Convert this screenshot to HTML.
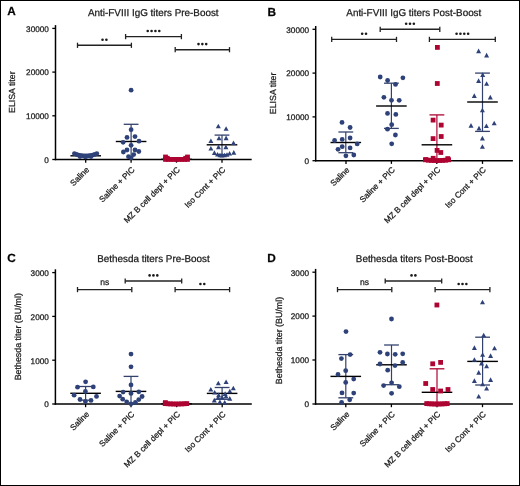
<!DOCTYPE html>
<html><head><meta charset="utf-8"><style>
html,body{margin:0;padding:0;background:#fff;}
body{width:520px;height:486px;overflow:hidden;}
text{stroke:#1a1a1a;stroke-width:0.25px;}
#w{width:520px;height:486px;will-change:transform;}
svg{display:block;font-family:"Liberation Sans", sans-serif;-webkit-font-smoothing:antialiased;text-rendering:geometricPrecision;}
</style></head><body><div id="w">
<svg width="520" height="486" viewBox="0 0 520 486">
<rect x="0" y="0" width="520" height="486" fill="#fff"/>
<rect x="0.5" y="0.5" width="519" height="485" fill="none" stroke="#000" stroke-width="1"/>
<text x="7.2" y="15.3" font-size="11.8" font-weight="bold" fill="#000">A</text>
<text transform="translate(88 15.5) scale(1 1.0)" font-size="9.9" fill="#1a1a1a">Anti-FVIII IgG titers Pre-Boost</text>
<line x1="55.5" y1="25.1" x2="55.5" y2="160.2" stroke="#000" stroke-width="1.5"/>
<line x1="52.3" y1="28.4" x2="55.5" y2="28.4" stroke="#000" stroke-width="1.3"/>
<text x="48.9" y="31.7" font-size="8.2" text-anchor="end" font-weight="normal" fill="#1a1a1a">30000</text>
<line x1="52.3" y1="72.1" x2="55.5" y2="72.1" stroke="#000" stroke-width="1.3"/>
<text x="48.9" y="75.4" font-size="8.2" text-anchor="end" font-weight="normal" fill="#1a1a1a">20000</text>
<line x1="52.3" y1="115.8" x2="55.5" y2="115.8" stroke="#000" stroke-width="1.3"/>
<text x="48.9" y="119.1" font-size="8.2" text-anchor="end" font-weight="normal" fill="#1a1a1a">10000</text>
<line x1="52.3" y1="159.5" x2="55.5" y2="159.5" stroke="#000" stroke-width="1.3"/>
<text x="48.9" y="162.8" font-size="8.2" text-anchor="end" font-weight="normal" fill="#1a1a1a">0</text>
<text x="14.6" y="92.2" font-size="8.8" text-anchor="middle" font-weight="normal" fill="#1a1a1a" transform="rotate(-90 14.6 92.2)">ELISA titer</text>
<line x1="54.8" y1="159.5" x2="251.7" y2="159.5" stroke="#000" stroke-width="1.5"/>
<line x1="85.7" y1="159.5" x2="85.7" y2="162.7" stroke="#000" stroke-width="1.3"/>
<text x="89.8" y="170.2" font-size="8.25" text-anchor="end" font-weight="normal" fill="#1a1a1a" transform="rotate(-45 89.8 170.2)">Saline</text>
<line x1="131.1" y1="159.5" x2="131.1" y2="162.7" stroke="#000" stroke-width="1.3"/>
<text x="135.2" y="170.2" font-size="8.25" text-anchor="end" font-weight="normal" fill="#1a1a1a" transform="rotate(-45 135.2 170.2)">Saline + PIC</text>
<line x1="176.5" y1="159.5" x2="176.5" y2="162.7" stroke="#000" stroke-width="1.3"/>
<text x="180.6" y="170.2" font-size="8.25" text-anchor="end" font-weight="normal" fill="#1a1a1a" transform="rotate(-45 180.6 170.2)">MZ B cell depl + PIC</text>
<line x1="222.0" y1="159.5" x2="222.0" y2="162.7" stroke="#000" stroke-width="1.3"/>
<text x="226.1" y="170.2" font-size="8.25" text-anchor="end" font-weight="normal" fill="#1a1a1a" transform="rotate(-45 226.1 170.2)">Iso Cont + PIC</text>
<line x1="77.5" y1="45.3" x2="131.4" y2="45.3" stroke="#222" stroke-width="1.4"/>
<line x1="77.5" y1="42.7" x2="77.5" y2="47.9" stroke="#222" stroke-width="1.3"/>
<line x1="131.4" y1="42.7" x2="131.4" y2="47.9" stroke="#222" stroke-width="1.3"/>
<circle cx="102.53" cy="39.7" r="1.3" fill="#1a1a1a"/>
<circle cx="106.38" cy="39.7" r="1.3" fill="#1a1a1a"/>
<line x1="125.6" y1="36.6" x2="181.4" y2="36.6" stroke="#222" stroke-width="1.4"/>
<line x1="125.6" y1="34.0" x2="125.6" y2="39.2" stroke="#222" stroke-width="1.3"/>
<line x1="181.4" y1="34.0" x2="181.4" y2="39.2" stroke="#222" stroke-width="1.3"/>
<circle cx="147.72" cy="31.0" r="1.3" fill="#1a1a1a"/>
<circle cx="151.57" cy="31.0" r="1.3" fill="#1a1a1a"/>
<circle cx="155.42" cy="31.0" r="1.3" fill="#1a1a1a"/>
<circle cx="159.28" cy="31.0" r="1.3" fill="#1a1a1a"/>
<line x1="175.2" y1="49.7" x2="229.5" y2="49.7" stroke="#222" stroke-width="1.4"/>
<line x1="175.2" y1="47.1" x2="175.2" y2="52.3" stroke="#222" stroke-width="1.3"/>
<line x1="229.5" y1="47.1" x2="229.5" y2="52.3" stroke="#222" stroke-width="1.3"/>
<circle cx="198.50" cy="44.1" r="1.3" fill="#1a1a1a"/>
<circle cx="202.35" cy="44.1" r="1.3" fill="#1a1a1a"/>
<circle cx="206.20" cy="44.1" r="1.3" fill="#1a1a1a"/>
<line x1="70.4" y1="155.8" x2="101.0" y2="155.8" stroke="#000" stroke-width="1.4"/>
<circle cx="74.4" cy="153.6" r="2.4" fill="#2e4279"/>
<circle cx="76.1" cy="154.3" r="2.4" fill="#2e4279"/>
<circle cx="77.8" cy="154.8" r="2.4" fill="#2e4279"/>
<circle cx="79.6" cy="155.3" r="2.4" fill="#2e4279"/>
<circle cx="81.3" cy="155.6" r="2.4" fill="#2e4279"/>
<circle cx="83.0" cy="155.9" r="2.4" fill="#2e4279"/>
<circle cx="84.7" cy="156.0" r="2.4" fill="#2e4279"/>
<circle cx="86.5" cy="156.0" r="2.4" fill="#2e4279"/>
<circle cx="88.2" cy="155.9" r="2.4" fill="#2e4279"/>
<circle cx="89.9" cy="155.6" r="2.4" fill="#2e4279"/>
<circle cx="91.6" cy="155.3" r="2.4" fill="#2e4279"/>
<circle cx="93.4" cy="154.8" r="2.4" fill="#2e4279"/>
<circle cx="95.1" cy="154.3" r="2.4" fill="#2e4279"/>
<circle cx="96.8" cy="153.6" r="2.4" fill="#2e4279"/>
<circle cx="80.0" cy="156.6" r="2.4" fill="#2e4279"/>
<circle cx="85.5" cy="156.9" r="2.4" fill="#2e4279"/>
<circle cx="91.0" cy="156.6" r="2.4" fill="#2e4279"/>
<line x1="131.1" y1="124.3" x2="131.1" y2="159.5" stroke="#33416c" stroke-width="1.2"/>
<line x1="123.7" y1="124.3" x2="138.5" y2="124.3" stroke="#33416c" stroke-width="1.3"/>
<line x1="115.8" y1="141.5" x2="146.4" y2="141.5" stroke="#000" stroke-width="1.4"/>
<circle cx="131.1" cy="90.2" r="2.4" fill="#2e4279"/>
<circle cx="131.1" cy="129.7" r="2.4" fill="#2e4279"/>
<circle cx="127.0" cy="137.4" r="2.4" fill="#2e4279"/>
<circle cx="135.0" cy="136.6" r="2.4" fill="#2e4279"/>
<circle cx="123.1" cy="142.3" r="2.4" fill="#2e4279"/>
<circle cx="139.0" cy="141.2" r="2.4" fill="#2e4279"/>
<circle cx="131.1" cy="145.3" r="2.4" fill="#2e4279"/>
<circle cx="127.0" cy="150.0" r="2.4" fill="#2e4279"/>
<circle cx="123.4" cy="152.0" r="2.4" fill="#2e4279"/>
<circle cx="135.0" cy="150.0" r="2.4" fill="#2e4279"/>
<circle cx="138.8" cy="151.5" r="2.4" fill="#2e4279"/>
<circle cx="133.7" cy="154.6" r="2.4" fill="#2e4279"/>
<circle cx="128.5" cy="156.7" r="2.4" fill="#2e4279"/>
<circle cx="131.1" cy="157.8" r="2.4" fill="#2e4279"/>
<line x1="161.2" y1="159.3" x2="191.8" y2="159.3" stroke="#000" stroke-width="1.4"/>
<rect x="163.1" y="157.0" width="4.8" height="4.8" fill="#ad0432"/>
<rect x="165.8" y="157.0" width="4.8" height="4.8" fill="#ad0432"/>
<rect x="168.6" y="157.0" width="4.8" height="4.8" fill="#ad0432"/>
<rect x="171.3" y="157.0" width="4.8" height="4.8" fill="#ad0432"/>
<rect x="174.1" y="157.0" width="4.8" height="4.8" fill="#ad0432"/>
<rect x="176.8" y="157.0" width="4.8" height="4.8" fill="#ad0432"/>
<rect x="179.6" y="157.0" width="4.8" height="4.8" fill="#ad0432"/>
<rect x="182.3" y="157.0" width="4.8" height="4.8" fill="#ad0432"/>
<rect x="185.1" y="157.0" width="4.8" height="4.8" fill="#ad0432"/>
<rect x="163.1" y="154.6" width="4.8" height="4.8" fill="#ad0432"/>
<rect x="164.9" y="155.9" width="4.8" height="4.8" fill="#ad0432"/>
<rect x="183.3" y="155.9" width="4.8" height="4.8" fill="#ad0432"/>
<rect x="185.1" y="154.6" width="4.8" height="4.8" fill="#ad0432"/>
<line x1="222.0" y1="135.1" x2="222.0" y2="154.5" stroke="#33416c" stroke-width="1.2"/>
<line x1="214.6" y1="135.1" x2="229.4" y2="135.1" stroke="#33416c" stroke-width="1.3"/>
<line x1="214.6" y1="154.5" x2="229.4" y2="154.5" stroke="#33416c" stroke-width="1.3"/>
<line x1="206.7" y1="144.8" x2="237.3" y2="144.8" stroke="#000" stroke-width="1.4"/>
<path d="M215.8 128.3L218.3 123.7L220.8 128.3Z" fill="#2e4279"/>
<path d="M223.6 130.8L226.1 126.2L228.6 130.8Z" fill="#2e4279"/>
<path d="M216.5 140.3L219.0 135.7L221.5 140.3Z" fill="#2e4279"/>
<path d="M223.6 140.2L226.1 135.6L228.6 140.2Z" fill="#2e4279"/>
<path d="M208.4 143.1L210.9 138.5L213.4 143.1Z" fill="#2e4279"/>
<path d="M231.0 145.0L233.5 140.4L236.0 145.0Z" fill="#2e4279"/>
<path d="M208.4 150.5L210.9 145.9L213.4 150.5Z" fill="#2e4279"/>
<path d="M216.0 149.2L218.5 144.6L221.0 149.2Z" fill="#2e4279"/>
<path d="M223.4 149.2L225.9 144.6L228.4 149.2Z" fill="#2e4279"/>
<path d="M211.9 154.9L214.4 150.3L216.9 154.9Z" fill="#2e4279"/>
<path d="M231.3 154.7L233.8 150.1L236.3 154.7Z" fill="#2e4279"/>
<path d="M227.1 155.6L229.6 151.0L232.1 155.6Z" fill="#2e4279"/>
<path d="M215.1 156.6L217.6 152.0L220.1 156.6Z" fill="#2e4279"/>
<path d="M217.5 157.3L220.0 152.7L222.5 157.3Z" fill="#2e4279"/>
<path d="M219.5 157.5L222.0 152.9L224.5 157.5Z" fill="#2e4279"/>
<path d="M222.0 157.3L224.5 152.7L227.0 157.3Z" fill="#2e4279"/>
<path d="M224.5 156.8L227.0 152.2L229.5 156.8Z" fill="#2e4279"/>
<text x="267.5" y="15.8" font-size="11.8" font-weight="bold" fill="#000">B</text>
<text transform="translate(346.3 15.5) scale(1 1.0)" font-size="9.9" fill="#1a1a1a">Anti-FVIII IgG titers Post-Boost</text>
<line x1="315.7" y1="26.0" x2="315.7" y2="161.4" stroke="#000" stroke-width="1.5"/>
<line x1="312.5" y1="29.3" x2="315.7" y2="29.3" stroke="#000" stroke-width="1.3"/>
<text x="309.1" y="32.6" font-size="8.2" text-anchor="end" font-weight="normal" fill="#1a1a1a">30000</text>
<line x1="312.5" y1="73.1" x2="315.7" y2="73.1" stroke="#000" stroke-width="1.3"/>
<text x="309.1" y="76.4" font-size="8.2" text-anchor="end" font-weight="normal" fill="#1a1a1a">20000</text>
<line x1="312.5" y1="116.9" x2="315.7" y2="116.9" stroke="#000" stroke-width="1.3"/>
<text x="309.1" y="120.2" font-size="8.2" text-anchor="end" font-weight="normal" fill="#1a1a1a">10000</text>
<line x1="312.5" y1="160.7" x2="315.7" y2="160.7" stroke="#000" stroke-width="1.3"/>
<text x="309.1" y="164.0" font-size="8.2" text-anchor="end" font-weight="normal" fill="#1a1a1a">0</text>
<text x="275.6" y="93.4" font-size="8.8" text-anchor="middle" font-weight="normal" fill="#1a1a1a" transform="rotate(-90 275.6 93.4)">ELISA titer</text>
<line x1="315.0" y1="160.7" x2="512.9" y2="160.7" stroke="#000" stroke-width="1.5"/>
<line x1="346.0" y1="160.7" x2="346.0" y2="163.9" stroke="#000" stroke-width="1.3"/>
<text x="350.1" y="170.4" font-size="8.25" text-anchor="end" font-weight="normal" fill="#1a1a1a" transform="rotate(-45 350.1 170.4)">Saline</text>
<line x1="391.4" y1="160.7" x2="391.4" y2="163.9" stroke="#000" stroke-width="1.3"/>
<text x="395.5" y="170.4" font-size="8.25" text-anchor="end" font-weight="normal" fill="#1a1a1a" transform="rotate(-45 395.5 170.4)">Saline + PIC</text>
<line x1="436.8" y1="160.7" x2="436.8" y2="163.9" stroke="#000" stroke-width="1.3"/>
<text x="440.9" y="170.4" font-size="8.25" text-anchor="end" font-weight="normal" fill="#1a1a1a" transform="rotate(-45 440.9 170.4)">MZ B cell depl + PIC</text>
<line x1="482.5" y1="160.7" x2="482.5" y2="163.9" stroke="#000" stroke-width="1.3"/>
<text x="486.6" y="170.4" font-size="8.25" text-anchor="end" font-weight="normal" fill="#1a1a1a" transform="rotate(-45 486.6 170.4)">Iso Cont + PIC</text>
<line x1="331.7" y1="39.4" x2="396.5" y2="39.4" stroke="#222" stroke-width="1.4"/>
<line x1="331.7" y1="36.8" x2="331.7" y2="42.0" stroke="#222" stroke-width="1.3"/>
<line x1="396.5" y1="36.8" x2="396.5" y2="42.0" stroke="#222" stroke-width="1.3"/>
<circle cx="362.18" cy="33.8" r="1.3" fill="#1a1a1a"/>
<circle cx="366.03" cy="33.8" r="1.3" fill="#1a1a1a"/>
<line x1="380.2" y1="29.3" x2="439.8" y2="29.3" stroke="#222" stroke-width="1.4"/>
<line x1="380.2" y1="26.7" x2="380.2" y2="31.9" stroke="#222" stroke-width="1.3"/>
<line x1="439.8" y1="26.7" x2="439.8" y2="31.9" stroke="#222" stroke-width="1.3"/>
<circle cx="406.15" cy="23.7" r="1.3" fill="#1a1a1a"/>
<circle cx="410.00" cy="23.7" r="1.3" fill="#1a1a1a"/>
<circle cx="413.85" cy="23.7" r="1.3" fill="#1a1a1a"/>
<line x1="429.4" y1="39.4" x2="495.3" y2="39.4" stroke="#222" stroke-width="1.4"/>
<line x1="429.4" y1="36.8" x2="429.4" y2="42.0" stroke="#222" stroke-width="1.3"/>
<line x1="495.3" y1="36.8" x2="495.3" y2="42.0" stroke="#222" stroke-width="1.3"/>
<circle cx="456.58" cy="33.8" r="1.3" fill="#1a1a1a"/>
<circle cx="460.43" cy="33.8" r="1.3" fill="#1a1a1a"/>
<circle cx="464.28" cy="33.8" r="1.3" fill="#1a1a1a"/>
<circle cx="468.13" cy="33.8" r="1.3" fill="#1a1a1a"/>
<line x1="345.8" y1="132.0" x2="345.8" y2="152.7" stroke="#33416c" stroke-width="1.2"/>
<line x1="338.4" y1="132.0" x2="353.2" y2="132.0" stroke="#33416c" stroke-width="1.3"/>
<line x1="338.4" y1="152.7" x2="353.2" y2="152.7" stroke="#33416c" stroke-width="1.3"/>
<line x1="330.5" y1="142.5" x2="361.1" y2="142.5" stroke="#000" stroke-width="1.4"/>
<circle cx="342.0" cy="122.4" r="2.4" fill="#2e4279"/>
<circle cx="350.1" cy="127.5" r="2.4" fill="#2e4279"/>
<circle cx="350.1" cy="138.0" r="2.4" fill="#2e4279"/>
<circle cx="342.2" cy="139.4" r="2.4" fill="#2e4279"/>
<circle cx="334.6" cy="140.5" r="2.4" fill="#2e4279"/>
<circle cx="357.2" cy="143.9" r="2.4" fill="#2e4279"/>
<circle cx="342.2" cy="146.7" r="2.4" fill="#2e4279"/>
<circle cx="350.1" cy="147.9" r="2.4" fill="#2e4279"/>
<circle cx="338.0" cy="149.3" r="2.4" fill="#2e4279"/>
<circle cx="345.9" cy="155.8" r="2.4" fill="#2e4279"/>
<circle cx="353.8" cy="155.0" r="2.4" fill="#2e4279"/>
<line x1="391.4" y1="83.2" x2="391.4" y2="128.4" stroke="#33416c" stroke-width="1.2"/>
<line x1="384.0" y1="83.2" x2="398.8" y2="83.2" stroke="#33416c" stroke-width="1.3"/>
<line x1="384.0" y1="128.4" x2="398.8" y2="128.4" stroke="#33416c" stroke-width="1.3"/>
<line x1="376.1" y1="106.0" x2="406.7" y2="106.0" stroke="#000" stroke-width="1.4"/>
<circle cx="380.2" cy="77.0" r="2.4" fill="#2e4279"/>
<circle cx="402.9" cy="77.8" r="2.4" fill="#2e4279"/>
<circle cx="387.6" cy="80.5" r="2.4" fill="#2e4279"/>
<circle cx="395.5" cy="84.4" r="2.4" fill="#2e4279"/>
<circle cx="383.9" cy="97.3" r="2.4" fill="#2e4279"/>
<circle cx="391.5" cy="100.3" r="2.4" fill="#2e4279"/>
<circle cx="399.2" cy="100.3" r="2.4" fill="#2e4279"/>
<circle cx="387.5" cy="113.4" r="2.4" fill="#2e4279"/>
<circle cx="395.8" cy="114.4" r="2.4" fill="#2e4279"/>
<circle cx="391.7" cy="124.7" r="2.4" fill="#2e4279"/>
<circle cx="387.5" cy="129.2" r="2.4" fill="#2e4279"/>
<circle cx="395.4" cy="135.0" r="2.4" fill="#2e4279"/>
<circle cx="391.7" cy="143.8" r="2.4" fill="#2e4279"/>
<line x1="436.9" y1="114.9" x2="436.9" y2="160.7" stroke="#ad0432" stroke-width="1.2"/>
<line x1="429.5" y1="114.9" x2="444.3" y2="114.9" stroke="#ad0432" stroke-width="1.3"/>
<line x1="421.6" y1="144.8" x2="452.2" y2="144.8" stroke="#000" stroke-width="1.4"/>
<rect x="435.0" y="45.0" width="4.8" height="4.8" fill="#ad0432"/>
<rect x="434.9" y="81.1" width="4.8" height="4.8" fill="#ad0432"/>
<rect x="430.7" y="117.7" width="4.8" height="4.8" fill="#ad0432"/>
<rect x="438.8" y="122.7" width="4.8" height="4.8" fill="#ad0432"/>
<rect x="438.8" y="134.1" width="4.8" height="4.8" fill="#ad0432"/>
<rect x="430.7" y="136.2" width="4.8" height="4.8" fill="#ad0432"/>
<rect x="434.7" y="148.0" width="4.8" height="4.8" fill="#ad0432"/>
<rect x="438.4" y="150.1" width="4.8" height="4.8" fill="#ad0432"/>
<rect x="430.8" y="155.9" width="4.8" height="4.8" fill="#ad0432"/>
<rect x="445.4" y="156.2" width="4.8" height="4.8" fill="#ad0432"/>
<rect x="423.6" y="157.2" width="4.8" height="4.8" fill="#ad0432"/>
<rect x="423.0" y="157.4" width="4.8" height="4.8" fill="#ad0432"/>
<rect x="425.9" y="157.8" width="4.8" height="4.8" fill="#ad0432"/>
<rect x="428.8" y="158.0" width="4.8" height="4.8" fill="#ad0432"/>
<rect x="431.7" y="158.1" width="4.8" height="4.8" fill="#ad0432"/>
<rect x="434.6" y="158.2" width="4.8" height="4.8" fill="#ad0432"/>
<rect x="437.5" y="158.1" width="4.8" height="4.8" fill="#ad0432"/>
<rect x="440.4" y="158.0" width="4.8" height="4.8" fill="#ad0432"/>
<rect x="443.3" y="157.8" width="4.8" height="4.8" fill="#ad0432"/>
<rect x="446.2" y="157.4" width="4.8" height="4.8" fill="#ad0432"/>
<line x1="482.5" y1="73.1" x2="482.5" y2="131.4" stroke="#33416c" stroke-width="1.2"/>
<line x1="475.1" y1="73.1" x2="489.9" y2="73.1" stroke="#33416c" stroke-width="1.3"/>
<line x1="475.1" y1="131.4" x2="489.9" y2="131.4" stroke="#33416c" stroke-width="1.3"/>
<line x1="467.2" y1="102.0" x2="497.8" y2="102.0" stroke="#000" stroke-width="1.4"/>
<path d="M476.1 53.2L478.6 48.6L481.1 53.2Z" fill="#2e4279"/>
<path d="M484.1 57.4L486.6 52.8L489.1 57.4Z" fill="#2e4279"/>
<path d="M480.2 76.9L482.7 72.3L485.2 76.9Z" fill="#2e4279"/>
<path d="M476.1 82.9L478.6 78.3L481.1 82.9Z" fill="#2e4279"/>
<path d="M484.1 85.8L486.6 81.2L489.1 85.8Z" fill="#2e4279"/>
<path d="M471.8 97.9L474.3 93.3L476.8 97.9Z" fill="#2e4279"/>
<path d="M487.8 99.4L490.3 94.8L492.8 99.4Z" fill="#2e4279"/>
<path d="M479.9 112.3L482.4 107.7L484.9 112.3Z" fill="#2e4279"/>
<path d="M468.5 127.7L471.0 123.1L473.5 127.7Z" fill="#2e4279"/>
<path d="M476.5 130.4L479.0 125.8L481.5 130.4Z" fill="#2e4279"/>
<path d="M483.9 128.0L486.4 123.4L488.9 128.0Z" fill="#2e4279"/>
<path d="M491.7 125.3L494.2 120.7L496.7 125.3Z" fill="#2e4279"/>
<path d="M479.9 140.4L482.4 135.8L484.9 140.4Z" fill="#2e4279"/>
<path d="M479.9 148.8L482.4 144.2L484.9 148.8Z" fill="#2e4279"/>
<text x="7.3" y="262.0" font-size="11.8" font-weight="bold" fill="#000">C</text>
<text transform="translate(97.2 262.1) scale(1 1.0)" font-size="9.9" fill="#1a1a1a">Bethesda titers Pre-Boost</text>
<line x1="55.4" y1="269.3" x2="55.4" y2="404.7" stroke="#000" stroke-width="1.5"/>
<line x1="52.2" y1="272.6" x2="55.4" y2="272.6" stroke="#000" stroke-width="1.3"/>
<text x="48.8" y="275.9" font-size="8.2" text-anchor="end" font-weight="normal" fill="#1a1a1a">3000</text>
<line x1="52.2" y1="316.4" x2="55.4" y2="316.4" stroke="#000" stroke-width="1.3"/>
<text x="48.8" y="319.7" font-size="8.2" text-anchor="end" font-weight="normal" fill="#1a1a1a">2000</text>
<line x1="52.2" y1="360.2" x2="55.4" y2="360.2" stroke="#000" stroke-width="1.3"/>
<text x="48.8" y="363.5" font-size="8.2" text-anchor="end" font-weight="normal" fill="#1a1a1a">1000</text>
<line x1="52.2" y1="404.0" x2="55.4" y2="404.0" stroke="#000" stroke-width="1.3"/>
<text x="48.8" y="407.3" font-size="8.2" text-anchor="end" font-weight="normal" fill="#1a1a1a">0</text>
<text x="21.2" y="336.7" font-size="8.9" text-anchor="middle" font-weight="normal" fill="#1a1a1a" transform="rotate(-90 21.2 336.7)">Bethesda titer (BU/ml)</text>
<line x1="54.7" y1="404.0" x2="251.8" y2="404.0" stroke="#000" stroke-width="1.5"/>
<line x1="85.6" y1="404.0" x2="85.6" y2="407.2" stroke="#000" stroke-width="1.3"/>
<text x="89.7" y="414.7" font-size="8.25" text-anchor="end" font-weight="normal" fill="#1a1a1a" transform="rotate(-45 89.7 414.7)">Saline</text>
<line x1="131.0" y1="404.0" x2="131.0" y2="407.2" stroke="#000" stroke-width="1.3"/>
<text x="135.1" y="414.7" font-size="8.25" text-anchor="end" font-weight="normal" fill="#1a1a1a" transform="rotate(-45 135.1 414.7)">Saline + PIC</text>
<line x1="176.6" y1="404.0" x2="176.6" y2="407.2" stroke="#000" stroke-width="1.3"/>
<text x="180.7" y="414.7" font-size="8.25" text-anchor="end" font-weight="normal" fill="#1a1a1a" transform="rotate(-45 180.7 414.7)">MZ B cell depl + PIC</text>
<line x1="222.2" y1="404.0" x2="222.2" y2="407.2" stroke="#000" stroke-width="1.3"/>
<text x="226.3" y="414.7" font-size="8.25" text-anchor="end" font-weight="normal" fill="#1a1a1a" transform="rotate(-45 226.3 414.7)">Iso Cont + PIC</text>
<line x1="77.5" y1="289.6" x2="131.8" y2="289.6" stroke="#222" stroke-width="1.4"/>
<line x1="77.5" y1="287.0" x2="77.5" y2="292.2" stroke="#222" stroke-width="1.3"/>
<line x1="131.8" y1="287.0" x2="131.8" y2="292.2" stroke="#222" stroke-width="1.3"/>
<text x="104.7" y="285.0" font-size="8.6" text-anchor="middle" font-weight="normal" fill="#1a1a1a">ns</text>
<line x1="125.2" y1="281.0" x2="181.7" y2="281.0" stroke="#222" stroke-width="1.4"/>
<line x1="125.2" y1="278.4" x2="125.2" y2="283.6" stroke="#222" stroke-width="1.3"/>
<line x1="181.7" y1="278.4" x2="181.7" y2="283.6" stroke="#222" stroke-width="1.3"/>
<circle cx="149.60" cy="275.4" r="1.3" fill="#1a1a1a"/>
<circle cx="153.45" cy="275.4" r="1.3" fill="#1a1a1a"/>
<circle cx="157.30" cy="275.4" r="1.3" fill="#1a1a1a"/>
<line x1="175.1" y1="289.6" x2="229.6" y2="289.6" stroke="#222" stroke-width="1.4"/>
<line x1="175.1" y1="287.0" x2="175.1" y2="292.2" stroke="#222" stroke-width="1.3"/>
<line x1="229.6" y1="287.0" x2="229.6" y2="292.2" stroke="#222" stroke-width="1.3"/>
<circle cx="200.42" cy="284.0" r="1.3" fill="#1a1a1a"/>
<circle cx="204.27" cy="284.0" r="1.3" fill="#1a1a1a"/>
<line x1="85.6" y1="386.5" x2="85.6" y2="400.2" stroke="#33416c" stroke-width="1.2"/>
<line x1="78.2" y1="386.5" x2="93.0" y2="386.5" stroke="#33416c" stroke-width="1.3"/>
<line x1="78.2" y1="400.2" x2="93.0" y2="400.2" stroke="#33416c" stroke-width="1.3"/>
<line x1="70.3" y1="393.3" x2="100.9" y2="393.3" stroke="#000" stroke-width="1.4"/>
<circle cx="85.6" cy="381.8" r="2.4" fill="#2e4279"/>
<circle cx="77.5" cy="387.2" r="2.4" fill="#2e4279"/>
<circle cx="93.3" cy="386.9" r="2.4" fill="#2e4279"/>
<circle cx="85.4" cy="391.5" r="2.4" fill="#2e4279"/>
<circle cx="74.1" cy="395.2" r="2.4" fill="#2e4279"/>
<circle cx="96.5" cy="396.4" r="2.4" fill="#2e4279"/>
<circle cx="80.0" cy="399.5" r="2.4" fill="#2e4279"/>
<circle cx="91.0" cy="400.4" r="2.4" fill="#2e4279"/>
<circle cx="85.4" cy="401.5" r="2.4" fill="#2e4279"/>
<line x1="131.0" y1="376.4" x2="131.0" y2="404.0" stroke="#33416c" stroke-width="1.2"/>
<line x1="123.6" y1="376.4" x2="138.4" y2="376.4" stroke="#33416c" stroke-width="1.3"/>
<line x1="115.7" y1="391.4" x2="146.3" y2="391.4" stroke="#000" stroke-width="1.4"/>
<circle cx="131.0" cy="354.1" r="2.4" fill="#2e4279"/>
<circle cx="131.0" cy="366.8" r="2.4" fill="#2e4279"/>
<circle cx="131.0" cy="384.9" r="2.4" fill="#2e4279"/>
<circle cx="123.1" cy="392.1" r="2.4" fill="#2e4279"/>
<circle cx="138.8" cy="391.8" r="2.4" fill="#2e4279"/>
<circle cx="131.0" cy="393.4" r="2.4" fill="#2e4279"/>
<circle cx="119.6" cy="396.1" r="2.4" fill="#2e4279"/>
<circle cx="142.1" cy="396.5" r="2.4" fill="#2e4279"/>
<circle cx="122.7" cy="399.2" r="2.4" fill="#2e4279"/>
<circle cx="138.8" cy="399.6" r="2.4" fill="#2e4279"/>
<circle cx="126.7" cy="401.8" r="2.4" fill="#2e4279"/>
<circle cx="135.4" cy="402.5" r="2.4" fill="#2e4279"/>
<circle cx="131.0" cy="403.8" r="2.4" fill="#2e4279"/>
<line x1="161.3" y1="403.8" x2="191.9" y2="403.8" stroke="#000" stroke-width="1.4"/>
<rect x="162.8" y="401.2" width="4.8" height="4.8" fill="#ad0432"/>
<rect x="165.5" y="401.4" width="4.8" height="4.8" fill="#ad0432"/>
<rect x="168.2" y="401.5" width="4.8" height="4.8" fill="#ad0432"/>
<rect x="170.9" y="401.6" width="4.8" height="4.8" fill="#ad0432"/>
<rect x="173.6" y="401.6" width="4.8" height="4.8" fill="#ad0432"/>
<rect x="176.3" y="401.6" width="4.8" height="4.8" fill="#ad0432"/>
<rect x="179.0" y="401.5" width="4.8" height="4.8" fill="#ad0432"/>
<rect x="181.7" y="401.4" width="4.8" height="4.8" fill="#ad0432"/>
<rect x="184.4" y="401.2" width="4.8" height="4.8" fill="#ad0432"/>
<rect x="163.0" y="400.2" width="4.8" height="4.8" fill="#ad0432"/>
<line x1="222.1" y1="387.5" x2="222.1" y2="399.3" stroke="#33416c" stroke-width="1.2"/>
<line x1="214.7" y1="387.5" x2="229.5" y2="387.5" stroke="#33416c" stroke-width="1.3"/>
<line x1="214.7" y1="399.3" x2="229.5" y2="399.3" stroke="#33416c" stroke-width="1.3"/>
<line x1="206.8" y1="393.4" x2="237.4" y2="393.4" stroke="#000" stroke-width="1.4"/>
<path d="M215.8 385.3L218.3 380.7L220.8 385.3Z" fill="#2e4279"/>
<path d="M223.6 384.0L226.1 379.4L228.6 384.0Z" fill="#2e4279"/>
<path d="M208.3 391.6L210.8 387.0L213.3 391.6Z" fill="#2e4279"/>
<path d="M230.8 390.3L233.3 385.7L235.8 390.3Z" fill="#2e4279"/>
<path d="M227.3 393.3L229.8 388.7L232.3 393.3Z" fill="#2e4279"/>
<path d="M212.2 394.6L214.7 390.0L217.2 394.6Z" fill="#2e4279"/>
<path d="M216.1 397.2L218.6 392.6L221.1 397.2Z" fill="#2e4279"/>
<path d="M222.6 395.9L225.1 391.3L227.6 395.9Z" fill="#2e4279"/>
<path d="M223.5 398.5L226.0 393.9L228.5 398.5Z" fill="#2e4279"/>
<path d="M215.7 399.8L218.2 395.2L220.7 399.8Z" fill="#2e4279"/>
<path d="M211.8 402.4L214.3 397.8L216.8 402.4Z" fill="#2e4279"/>
<path d="M227.3 400.7L229.8 396.1L232.3 400.7Z" fill="#2e4279"/>
<path d="M219.6 399.4L222.1 394.8L224.6 399.4Z" fill="#2e4279"/>
<path d="M217.4 404.1L219.9 399.5L222.4 404.1Z" fill="#2e4279"/>
<path d="M222.2 404.5L224.7 399.9L227.2 404.5Z" fill="#2e4279"/>
<text x="267.3" y="262.0" font-size="11.8" font-weight="bold" fill="#000">D</text>
<text transform="translate(355.8 262.1) scale(1 1.0)" font-size="9.9" fill="#1a1a1a">Bethesda titers Post-Boost</text>
<line x1="315.6" y1="268.9" x2="315.6" y2="404.7" stroke="#000" stroke-width="1.5"/>
<line x1="312.4" y1="272.2" x2="315.6" y2="272.2" stroke="#000" stroke-width="1.3"/>
<text x="309.0" y="275.5" font-size="8.2" text-anchor="end" font-weight="normal" fill="#1a1a1a">3000</text>
<line x1="312.4" y1="316.1" x2="315.6" y2="316.1" stroke="#000" stroke-width="1.3"/>
<text x="309.0" y="319.4" font-size="8.2" text-anchor="end" font-weight="normal" fill="#1a1a1a">2000</text>
<line x1="312.4" y1="360.0" x2="315.6" y2="360.0" stroke="#000" stroke-width="1.3"/>
<text x="309.0" y="363.3" font-size="8.2" text-anchor="end" font-weight="normal" fill="#1a1a1a">1000</text>
<line x1="312.4" y1="404.0" x2="315.6" y2="404.0" stroke="#000" stroke-width="1.3"/>
<text x="309.0" y="407.3" font-size="8.2" text-anchor="end" font-weight="normal" fill="#1a1a1a">0</text>
<text x="281.6" y="340.5" font-size="8.9" text-anchor="middle" font-weight="normal" fill="#1a1a1a" transform="rotate(-90 281.6 340.5)">Bethesda titer (BU/ml)</text>
<line x1="314.9" y1="404.0" x2="512.9" y2="404.0" stroke="#000" stroke-width="1.5"/>
<line x1="345.8" y1="404.0" x2="345.8" y2="407.2" stroke="#000" stroke-width="1.3"/>
<text x="349.9" y="414.7" font-size="8.25" text-anchor="end" font-weight="normal" fill="#1a1a1a" transform="rotate(-45 349.9 414.7)">Saline</text>
<line x1="391.4" y1="404.0" x2="391.4" y2="407.2" stroke="#000" stroke-width="1.3"/>
<text x="395.5" y="414.7" font-size="8.25" text-anchor="end" font-weight="normal" fill="#1a1a1a" transform="rotate(-45 395.5 414.7)">Saline + PIC</text>
<line x1="437.0" y1="404.0" x2="437.0" y2="407.2" stroke="#000" stroke-width="1.3"/>
<text x="441.1" y="414.7" font-size="8.25" text-anchor="end" font-weight="normal" fill="#1a1a1a" transform="rotate(-45 441.1 414.7)">MZ B cell depl + PIC</text>
<line x1="482.5" y1="404.0" x2="482.5" y2="407.2" stroke="#000" stroke-width="1.3"/>
<text x="486.6" y="414.7" font-size="8.25" text-anchor="end" font-weight="normal" fill="#1a1a1a" transform="rotate(-45 486.6 414.7)">Iso Cont + PIC</text>
<line x1="337.5" y1="289.6" x2="391.8" y2="289.6" stroke="#222" stroke-width="1.4"/>
<line x1="337.5" y1="287.0" x2="337.5" y2="292.2" stroke="#222" stroke-width="1.3"/>
<line x1="391.8" y1="287.0" x2="391.8" y2="292.2" stroke="#222" stroke-width="1.3"/>
<text x="364.6" y="285.0" font-size="8.6" text-anchor="middle" font-weight="normal" fill="#1a1a1a">ns</text>
<line x1="385.2" y1="281.0" x2="441.7" y2="281.0" stroke="#222" stroke-width="1.4"/>
<line x1="385.2" y1="278.4" x2="385.2" y2="283.6" stroke="#222" stroke-width="1.3"/>
<line x1="441.7" y1="278.4" x2="441.7" y2="283.6" stroke="#222" stroke-width="1.3"/>
<circle cx="411.52" cy="275.4" r="1.3" fill="#1a1a1a"/>
<circle cx="415.38" cy="275.4" r="1.3" fill="#1a1a1a"/>
<line x1="435.1" y1="289.6" x2="489.9" y2="289.6" stroke="#222" stroke-width="1.4"/>
<line x1="435.1" y1="287.0" x2="435.1" y2="292.2" stroke="#222" stroke-width="1.3"/>
<line x1="489.9" y1="287.0" x2="489.9" y2="292.2" stroke="#222" stroke-width="1.3"/>
<circle cx="458.65" cy="284.0" r="1.3" fill="#1a1a1a"/>
<circle cx="462.50" cy="284.0" r="1.3" fill="#1a1a1a"/>
<circle cx="466.35" cy="284.0" r="1.3" fill="#1a1a1a"/>
<line x1="345.8" y1="354.6" x2="345.8" y2="397.8" stroke="#33416c" stroke-width="1.2"/>
<line x1="338.4" y1="354.6" x2="353.2" y2="354.6" stroke="#33416c" stroke-width="1.3"/>
<line x1="338.4" y1="397.8" x2="353.2" y2="397.8" stroke="#33416c" stroke-width="1.3"/>
<line x1="330.5" y1="376.4" x2="361.1" y2="376.4" stroke="#000" stroke-width="1.4"/>
<circle cx="346.0" cy="331.6" r="2.4" fill="#2e4279"/>
<circle cx="350.1" cy="354.6" r="2.4" fill="#2e4279"/>
<circle cx="341.4" cy="358.6" r="2.4" fill="#2e4279"/>
<circle cx="345.7" cy="370.7" r="2.4" fill="#2e4279"/>
<circle cx="338.0" cy="374.4" r="2.4" fill="#2e4279"/>
<circle cx="353.7" cy="379.1" r="2.4" fill="#2e4279"/>
<circle cx="345.7" cy="382.4" r="2.4" fill="#2e4279"/>
<circle cx="342.0" cy="392.9" r="2.4" fill="#2e4279"/>
<circle cx="353.7" cy="393.1" r="2.4" fill="#2e4279"/>
<circle cx="349.7" cy="399.8" r="2.4" fill="#2e4279"/>
<circle cx="341.6" cy="402.5" r="2.4" fill="#2e4279"/>
<line x1="391.5" y1="345.0" x2="391.5" y2="384.7" stroke="#33416c" stroke-width="1.2"/>
<line x1="384.1" y1="345.0" x2="398.9" y2="345.0" stroke="#33416c" stroke-width="1.3"/>
<line x1="384.1" y1="384.7" x2="398.9" y2="384.7" stroke="#33416c" stroke-width="1.3"/>
<line x1="376.2" y1="364.8" x2="406.8" y2="364.8" stroke="#000" stroke-width="1.4"/>
<circle cx="391.5" cy="319.0" r="2.4" fill="#2e4279"/>
<circle cx="380.0" cy="352.3" r="2.4" fill="#2e4279"/>
<circle cx="387.4" cy="354.0" r="2.4" fill="#2e4279"/>
<circle cx="395.2" cy="354.3" r="2.4" fill="#2e4279"/>
<circle cx="402.7" cy="353.8" r="2.4" fill="#2e4279"/>
<circle cx="380.0" cy="364.0" r="2.4" fill="#2e4279"/>
<circle cx="395.0" cy="365.6" r="2.4" fill="#2e4279"/>
<circle cx="402.7" cy="362.5" r="2.4" fill="#2e4279"/>
<circle cx="387.7" cy="370.2" r="2.4" fill="#2e4279"/>
<circle cx="391.6" cy="382.8" r="2.4" fill="#2e4279"/>
<circle cx="383.6" cy="385.6" r="2.4" fill="#2e4279"/>
<circle cx="399.3" cy="386.7" r="2.4" fill="#2e4279"/>
<circle cx="391.6" cy="393.3" r="2.4" fill="#2e4279"/>
<line x1="437.0" y1="368.8" x2="437.0" y2="404.0" stroke="#ad0432" stroke-width="1.2"/>
<line x1="429.6" y1="368.8" x2="444.4" y2="368.8" stroke="#ad0432" stroke-width="1.3"/>
<line x1="421.7" y1="392.3" x2="452.3" y2="392.3" stroke="#000" stroke-width="1.4"/>
<rect x="434.5" y="302.6" width="4.8" height="4.8" fill="#ad0432"/>
<rect x="430.3" y="361.4" width="4.8" height="4.8" fill="#ad0432"/>
<rect x="438.2" y="360.0" width="4.8" height="4.8" fill="#ad0432"/>
<rect x="423.3" y="381.1" width="4.8" height="4.8" fill="#ad0432"/>
<rect x="430.3" y="387.1" width="4.8" height="4.8" fill="#ad0432"/>
<rect x="438.2" y="388.6" width="4.8" height="4.8" fill="#ad0432"/>
<rect x="445.6" y="387.1" width="4.8" height="4.8" fill="#ad0432"/>
<rect x="424.3" y="401.2" width="4.8" height="4.8" fill="#ad0432"/>
<rect x="426.9" y="401.4" width="4.8" height="4.8" fill="#ad0432"/>
<rect x="429.4" y="401.5" width="4.8" height="4.8" fill="#ad0432"/>
<rect x="432.0" y="401.6" width="4.8" height="4.8" fill="#ad0432"/>
<rect x="434.6" y="401.6" width="4.8" height="4.8" fill="#ad0432"/>
<rect x="437.1" y="401.6" width="4.8" height="4.8" fill="#ad0432"/>
<rect x="439.7" y="401.5" width="4.8" height="4.8" fill="#ad0432"/>
<rect x="442.2" y="401.4" width="4.8" height="4.8" fill="#ad0432"/>
<rect x="444.8" y="401.2" width="4.8" height="4.8" fill="#ad0432"/>
<line x1="482.6" y1="337.2" x2="482.6" y2="385.0" stroke="#33416c" stroke-width="1.2"/>
<line x1="475.2" y1="337.2" x2="490.0" y2="337.2" stroke="#33416c" stroke-width="1.3"/>
<line x1="475.2" y1="385.0" x2="490.0" y2="385.0" stroke="#33416c" stroke-width="1.3"/>
<line x1="467.3" y1="361.4" x2="497.9" y2="361.4" stroke="#000" stroke-width="1.4"/>
<path d="M480.0 304.3L482.5 299.7L485.0 304.3Z" fill="#2e4279"/>
<path d="M481.2 337.3L483.7 332.7L486.2 337.3Z" fill="#2e4279"/>
<path d="M471.9 349.9L474.4 345.3L476.9 349.9Z" fill="#2e4279"/>
<path d="M492.0 350.3L494.5 345.7L497.0 350.3Z" fill="#2e4279"/>
<path d="M480.1 356.8L482.6 352.2L485.1 356.8Z" fill="#2e4279"/>
<path d="M488.1 357.9L490.6 353.3L493.1 357.9Z" fill="#2e4279"/>
<path d="M471.9 361.8L474.4 357.2L476.9 361.8Z" fill="#2e4279"/>
<path d="M479.0 365.4L481.5 360.8L484.0 365.4Z" fill="#2e4279"/>
<path d="M484.1 368.3L486.6 363.7L489.1 368.3Z" fill="#2e4279"/>
<path d="M476.2 374.7L478.7 370.1L481.2 374.7Z" fill="#2e4279"/>
<path d="M471.9 382.9L474.4 378.3L476.9 382.9Z" fill="#2e4279"/>
<path d="M488.1 381.9L490.6 377.3L493.1 381.9Z" fill="#2e4279"/>
<path d="M480.1 386.3L482.6 381.7L485.1 386.3Z" fill="#2e4279"/>
<path d="M484.1 390.6L486.6 386.0L489.1 390.6Z" fill="#2e4279"/>
<path d="M476.2 398.5L478.7 393.9L481.2 398.5Z" fill="#2e4279"/>
</svg></div>
</body></html>
